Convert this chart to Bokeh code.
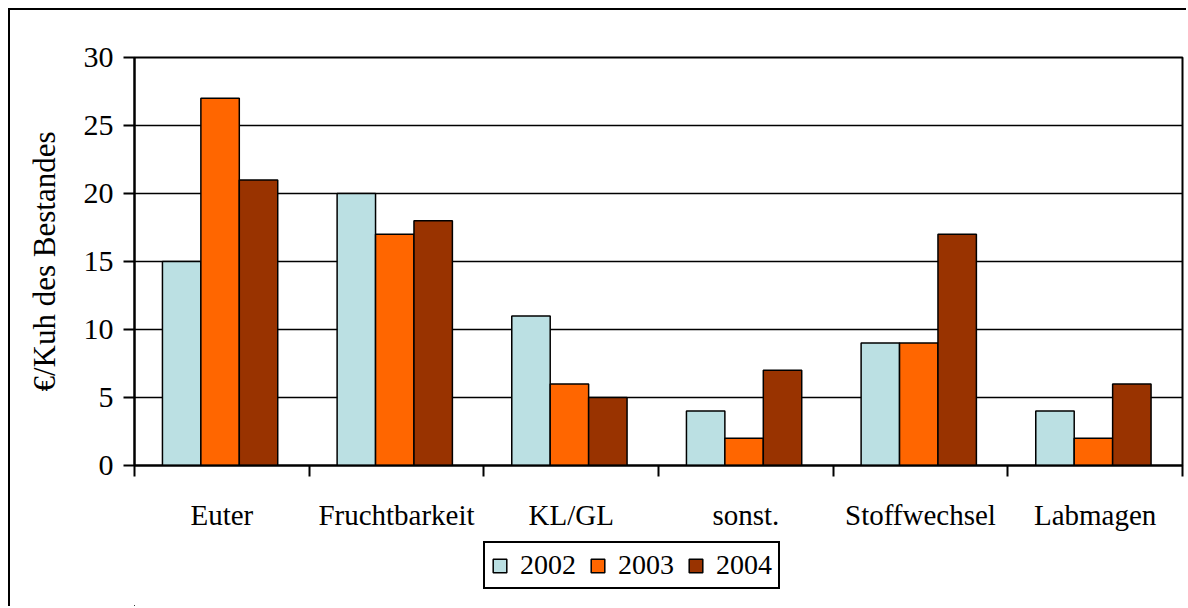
from bokeh.plotting import figure
from bokeh.layouts import column
from bokeh.models import (Range1d, FixedTicker, LinearAxis, Legend, LegendItem,
                          ColumnDataSource)
from bokeh.embed import file_html
from bokeh.resources import INLINE

categories = ["Euter", "Fruchtbarkeit", "KL/GL", "sonst.", "Stoffwechsel", "Labmagen"]
years = ["2002", "2003", "2004"]
v2002 = [15, 20, 11, 4, 9, 4]
v2003 = [27, 17, 6, 2, 9, 2]
v2004 = [21, 18, 5, 7, 17, 6]
colors = ["#BBE0E3", "#FF6600", "#993300"]
y_ticks = [0, 5, 10, 15, 20, 25, 30]

FONT = "Liberation Serif"

p = figure(width=1178, height=523, output_backend="svg", toolbar_location=None,
           x_range=Range1d(0, len(categories)), y_range=Range1d(0, 30),
           min_border_left=124, min_border_top=47, min_border_right=6, min_border_bottom=66,
           x_axis_location=None, y_axis_location=None)
p.styles = {"margin-left": "8px", "margin-top": "8px",
            "border-left": "2px solid black", "border-top": "2px solid black"}
p.background_fill_color = "white"
p.border_fill_color = "white"
p.outline_line_color = "black"
p.outline_line_width = 2

centers = [i + 0.5 for i in range(len(categories))]
bw = 0.22
offsets = [-bw, 0, bw]
series = [v2002, v2003, v2004]
for vals, col, off in zip(series, colors, offsets):
    src = ColumnDataSource(dict(x=[c + off - 0.01 for c in centers], top=vals))
    p.vbar(x="x", top="top", width=bw, bottom=0, source=src,
           fill_color=col, line_color="black", line_width=1.5)

# y axis
yax = LinearAxis(ticker=FixedTicker(ticks=y_ticks))
yax.axis_label = "€/Kuh des Bestandes"
yax.axis_label_text_font = FONT
yax.axis_label_text_font_style = "normal"
yax.axis_label_text_font_size = "31px"
yax.axis_label_text_color = "black"
yax.axis_label_standoff = 19
yax.major_label_text_font = FONT
yax.major_label_text_font_size = "30px"
yax.major_label_text_color = "black"
yax.major_label_standoff = 10
yax.major_tick_out = 11
yax.major_tick_in = 0
yax.major_tick_line_width = 2
yax.major_tick_line_color = "black"
yax.axis_line_width = 2
yax.axis_line_color = "black"
yax.minor_tick_line_color = None
p.add_layout(yax, "left")

# x axis: labels at centers, tick marks at category boundaries
xax = LinearAxis(ticker=FixedTicker(ticks=centers, minor_ticks=list(range(len(categories) + 1))))
xax.major_label_overrides = {c: name for c, name in zip(centers, categories)}
xax.major_label_text_font = FONT
xax.major_label_text_font_size = "29px"
xax.major_label_text_color = "black"
xax.major_label_standoff = 22
xax.major_tick_out = 0
xax.major_tick_in = 0
xax.minor_tick_out = 11
xax.minor_tick_in = 0
xax.minor_tick_line_width = 2
xax.minor_tick_line_color = "black"
xax.axis_line_width = 2
xax.axis_line_color = "black"
p.add_layout(xax, "below")

p.xgrid.visible = False
p.ygrid.ticker = FixedTicker(ticks=y_ticks)
p.ygrid.grid_line_color = "black"
p.ygrid.grid_line_width = 1.5

# legend strip below the chart (its bars lie outside the visible range;
# they only supply the legend swatches)
q = figure(width=1178, height=75, output_backend="svg", toolbar_location=None,
           x_range=Range1d(100, 101), y_range=Range1d(100, 101),
           min_border_left=0, min_border_top=0, min_border_right=0, min_border_bottom=0,
           x_axis_location=None, y_axis_location=None)
q.styles = {"margin-left": "8px", "border-left": "2px solid black"}
q.outline_line_color = None
q.xgrid.visible = False
q.ygrid.visible = False
q.background_fill_color = "white"
q.border_fill_color = "white"
legend_renderers = []
for vals, col, off in zip(series, colors, offsets):
    src = ColumnDataSource(dict(x=[c + off for c in centers], top=vals))
    r = q.vbar(x="x", top="top", width=bw, bottom=0, source=src,
               fill_color=col, line_color="black", line_width=1.5)
    legend_renderers.append(r)

legend = Legend(items=[LegendItem(label=y, renderers=[r]) for y, r in zip(years, legend_renderers)],
                orientation="horizontal", location=(349, 17))
legend.label_text_font = FONT
legend.label_text_font_size = "28px"
legend.label_text_color = "black"
legend.glyph_width = 17
legend.glyph_height = 17
legend.label_standoff = 12
legend.spacing = 13
legend.padding = 6
legend.margin = 0
legend.border_line_color = "black"
legend.border_line_alpha = 1
legend.border_line_width = 2
legend.background_fill_alpha = 1
q.add_layout(legend, "center")

layout = column(p, q, spacing=0)
open("out.html", "w").write(file_html(layout, INLINE))
